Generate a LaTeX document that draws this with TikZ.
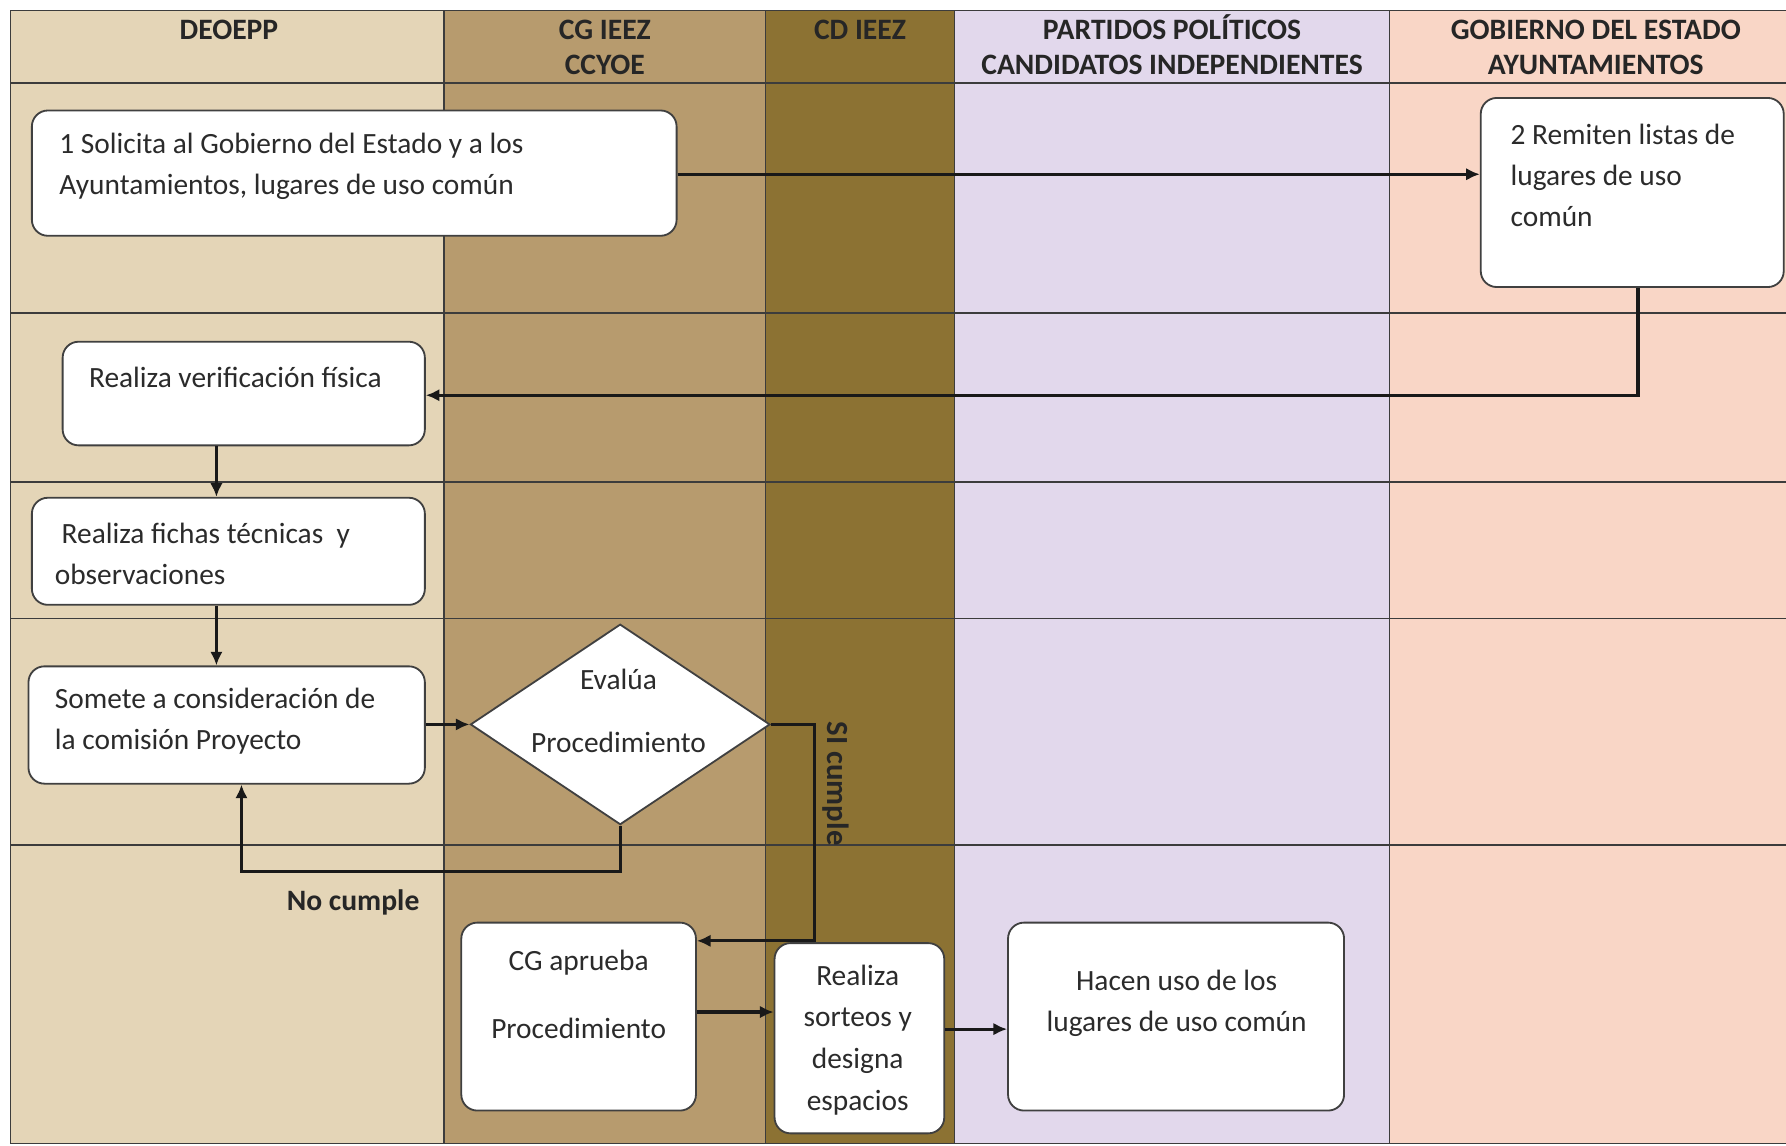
\documentclass[tikz,border=0pt]{standalone}
\usepackage{fontspec}
\setmainfont{Carlito}
\usetikzlibrary{shapes.geometric,arrows.meta,calc}
\definecolor{cDE}{HTML}{E4D5B7}
\definecolor{cCG}{HTML}{B79B6E}
\definecolor{cCD}{HTML}{8C7233}
\definecolor{cPA}{HTML}{E2D8EC}
\definecolor{cGO}{HTML}{F9D6C6}
\definecolor{gridc}{HTML}{3C3C3C}
\definecolor{boxline}{HTML}{404040}
\definecolor{txtc}{HTML}{2B2B2B}
\begin{document}
\begin{tikzpicture}[x=1pt,y=-1pt,
  gridline/.style={draw=gridc, line width=1.3pt},
  box/.style 2 args={draw=boxline, line width=1.6pt, fill=white, rounded corners=14pt,
    inner sep=0pt, minimum width=#1pt, minimum height=#2pt},
  decision/.style={draw=boxline, line width=1.6pt, fill=white, diamond, aspect=1.494,
    inner sep=0pt, minimum width=263pt, minimum height=176pt},
  txt/.style={font=\fontsize{25.8}{36}\selectfont, text=txtc, inner sep=0pt, align=left},
  ctxt/.style={txt, align=center},
  head/.style={font=\fontsize{26}{30}\selectfont\bfseries, text=black!85, inner sep=0pt, anchor=base},
  blabel/.style={font=\fontsize{26}{30}\selectfont\bfseries, text=black!85, inner sep=0pt},
  conn/.style={draw=black!90, line width=2.8pt, -{Latex[length=12pt,width=11pt]}}
]
\useasboundingbox (0,0) rectangle (1568,1006);
% lanes
\fill[cDE] (9,9) rectangle (390,1004);
\fill[cCG] (390,9) rectangle (672,1004);
\fill[cCD] (672,9) rectangle (838,1004);
\fill[cPA] (838,9) rectangle (1220,1004);
\fill[cGO] (1220,9) rectangle (1580,1004);
% grid
\draw[gridline] (9,9) -- (1580,9);
\draw[gridline] (9,1004) -- (1580,1004);
\draw[gridline] (9,9) -- (9,1004);
\foreach \xx in {390,672,838,1220} \draw[gridline] (\xx,9) -- (\xx,1004);
\draw[gridline, line width=2.2pt] (9,73) -- (1580,73);
\foreach \yy in {275,423,543,742} \draw[gridline] (9,\yy) -- (1580,\yy);
% headers
\node[head] (h1) at (201,35) {DEOEPP};
\node[head] (h2a) at (531,35) {CG IEEZ};
\node[head] (h2b) at (531,65) {CCYOE};
\node[head] (h3) at (755,35) {CD IEEZ};
\node[head] (h4a) at (1029,35) {PARTIDOS POLÍTICOS};
\node[head] (h4b) at (1029,65) {CANDIDATOS INDEPENDIENTES};
\node[head] (h5a) at (1401,35) {GOBIERNO DEL ESTADO};
\node[head] (h5b) at (1401,65) {AYUNTAMIENTOS};
% boxes
\node[box={566}{110}] (b1) at (311,152) {};
\node[box={266}{166}] (b2) at (1433,169) {};
\node[box={318}{91}] (verif) at (214,345.5) {};
\node[box={345}{94}] (fichas) at (200.5,484) {};
\node[box={348}{103}] (somete) at (199,636.5) {};
\node[decision] (dia) at (544.5,636) {};
\node[box={206}{165}] (cgap) at (508,892.5) {};
\node[box={149}{167}] (sorteos) at (754.5,911.5) {};
\node[box={295}{165}] (hacen) at (1032.5,892.5) {};
% texts
\node[txt, anchor=west] (t1) at (52,146) {1 Solicita al Gobierno del Estado y a los\\Ayuntamientos, lugares de uso común};
\node[txt, anchor=west] (t2) at (1326,154) {2 Remiten listas de\\lugares de uso\\común};
\node[txt, anchor=west] (t3) at (78,331) {Realiza verificación física};
\node[txt, anchor=west] (t4) at (48,486) {\hspace{6pt}Realiza fichas técnicas~ y\\observaciones};
\node[txt, anchor=west] (t5) at (48,633) {Somete a consideración de\\la comisión Proyecto};
\node[ctxt, font=\fontsize{25.8}{55}\selectfont] (t6) at (543,624) {Evalúa\\Procedimiento};
\node[ctxt, font=\fontsize{25.8}{60}\selectfont] (t7) at (508,873) {CG aprueba\\Procedimiento};
\node[ctxt, font=\fontsize{25.8}{36.5}\selectfont] (t8) at (753,913) {Realiza\\sorteos y\\designa\\espacios};
\node[ctxt] (t9) at (1033,881) {Hacen uso de los\\lugares de uso común};
\node[blabel] (lno) at (310,792) {No cumple};
\node[blabel, font=\fontsize{27}{30}\selectfont\bfseries, rotate=-90] (lsi) at (734,688) {SI cumple};
% helper coordinates
\coordinate (xa) at (190,0);
\coordinate (sc) at (715,826);
\coordinate (nc) at (212,765);
% connectors
\draw[conn] ($(b1.east)+(0,1)$) -- ($(b1.east -| b2.west)+(0,1)$);
\draw[conn] ($(b2.south)+(5,0)$) |- ($(verif.east)+(0,1.5)$);
\draw[conn] (verif.south -| xa) -- (fichas.north -| xa);
\draw[conn] (fichas.south -| xa) -- (somete.north -| xa);
\draw[conn] (somete.east |- dia.west) -- (dia.west);
\draw[conn] (dia.east) -| (sc) -- (sc -| cgap.east);
\draw[conn] (dia.south) |- (nc) -- (nc |- somete.south);
\draw[conn] ($(cgap.east)+(0,-4)$) -- ($(cgap.east -| sorteos.west)+(0,-4)$);
\draw[conn] ($(sorteos.east)+(0,-8)$) -- ($(sorteos.east -| hacen.west)+(0,-8)$);
\end{tikzpicture}
\end{document}
